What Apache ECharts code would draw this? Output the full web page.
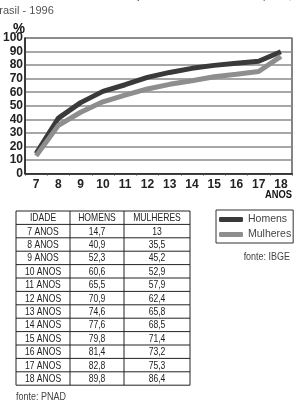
<!DOCTYPE html>
<html><head><meta charset="utf-8">
<script src="https://cdn.jsdelivr.net/npm/echarts@6/dist/echarts.min.js"></script>
<style>html,body{margin:0;padding:0;background:#fff}#c{width:297px;height:408px}</style>
</head><body><div id="c"></div>
<script>
const ages = ['7','8','9','10','11','12','13','14','15','16','17','18'];
const homens = [14.7,40.9,52.3,60.6,65.5,70.9,74.6,77.6,79.8,81.4,82.8,89.8];
const mulheres = [13,35.5,45.2,52.9,57.9,62.4,65.8,68.5,71.4,73.2,75.3,86.4];
const homensTxt = ['14,7','40,9','52,3','60,6','65,5','70,9','74,6','77,6','79,8','81,4','82,8','89,8'];
const mulheresTxt = ['13','35,5','45,2','52,9','57,9','62,4','65,8','68,5','71,4','73,2','75,3','86,4'];
const tableHeader = ['IDADE','HOMENS','MULHERES'];

const F = "'Liberation Sans',Arial,sans-serif";
const chart = echarts.init(document.getElementById('c'), null, {renderer:'canvas'});
const SX = 0.78; // condensed look

// table graphics
const colX = [16, 70, 124, 190];
const rowTop = 211, rowH = 13.4;
const g = [];
const nRows = ages.length + 1;
for (let r = 0; r <= nRows; r++) {
  g.push({type:'line', shape:{x1:colX[0], y1:rowTop + r*rowH, x2:colX[3], y2:rowTop + r*rowH}, style:{stroke:'#222', lineWidth:1}});
}
for (let c = 0; c < colX.length; c++) {
  g.push({type:'line', shape:{x1:colX[c], y1:rowTop, x2:colX[c], y2:rowTop + nRows*rowH}, style:{stroke:'#222', lineWidth:1}});
}
const rows = [tableHeader].concat(ages.map((a,i)=>[a+' ANOS', homensTxt[i], mulheresTxt[i]]));
rows.forEach((row, r) => {
  row.forEach((t, c) => {
    g.push({type:'text', x:(colX[c]+colX[c+1])/2, y:rowTop + r*rowH + rowH/2 + 0.5, scaleX:SX,
      style:{text:t, fill:'#222', font:"11px " + F, align:'center', verticalAlign:'middle'}});
  });
});
// texts
g.push({type:'text', x:-6, y:-9, style:{text:'Gráfico 9: Índice de escolarização entre sete e idade adequada,', fill:'#555', font:"10.5px " + F}});
g.push({type:'text', x:-8, y:5, style:{text:'Brasil - 1996', fill:'#555', font:"11px " + F}});
g.push({type:'text', x:13, y:21, scaleX:0.9, style:{text:'%', fill:'#111', font:"bold 15px " + F}});
g.push({type:'text', x:292, y:189, scaleX:0.85, style:{text:'ANOS', fill:'#111', font:"bold 11px " + F, align:'right'}});
g.push({type:'text', x:290, y:251, scaleX:SX, style:{text:'fonte: IBGE', fill:'#444', font:"11.5px " + F, align:'right'}});
g.push({type:'text', x:16, y:391, scaleX:SX, style:{text:'fonte: PNAD', fill:'#444', font:"11.5px " + F}});

chart.setOption({
  animation:false,
  grid:{left:16, right:5, top:38, height:135.5, show:true, borderColor:'#333', borderWidth:1.2, containLabel:false},
  xAxis:{type:'category', data:ages, boundaryGap:true,
    axisLine:{lineStyle:{color:'#222', width:1.5}},
    axisTick:{show:true, length:2, lineStyle:{color:'#444'}},
    axisLabel:{color:'#222', fontFamily:F, fontWeight:'bold', fontSize:12, margin:5}},
  yAxis:{type:'value', min:0, max:100, interval:10,
    axisLine:{show:true, lineStyle:{color:'#222', width:1.5}},
    axisTick:{show:false},
    splitLine:{lineStyle:{color:'#8a8a8a', width:1.5}},
    axisLabel:{color:'#222', fontFamily:F, fontWeight:'bold', fontSize:12, margin:2}},
  legend:{orient:'vertical', left:216, top:210, padding:[4,2,3,3], itemGap:4,
    borderColor:'#333', borderWidth:1, itemWidth:24, itemHeight:5, icon:'roundRect',
    textStyle:{color:'#444', fontFamily:F, fontSize:10.5},
    data:['Homens','Mulheres']},
  series:[
    {name:'Homens', type:'line', data:homens, showSymbol:false, symbol:'none', lineStyle:{color:'#3a3a3a', width:5}, itemStyle:{color:'#3a3a3a'}},
    {name:'Mulheres', type:'line', data:mulheres, showSymbol:false, symbol:'none', lineStyle:{color:'#8e8e8e', width:5}, itemStyle:{color:'#8e8e8e'}}
  ],
  graphic:g
});
</script></body></html>
